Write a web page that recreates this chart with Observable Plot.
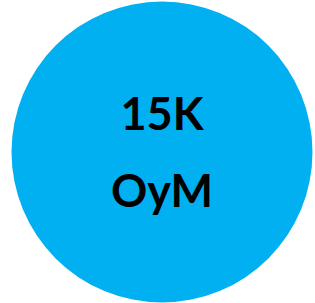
<!DOCTYPE html>
<html>
<head>
<meta charset="utf-8">
<script src="https://cdn.jsdelivr.net/npm/d3@7"></script>
<script src="https://cdn.jsdelivr.net/npm/@observablehq/plot@0.6"></script>
<style>
  html, body { margin: 0; padding: 0; background: #fff; }
</style>
</head>
<body>
<div id="chart"></div>
<script>
const labels = ["15K", "OyM"];
const bubble = [{ value: 15000 }];

const chart = Plot.plot({
  width: 315,
  height: 303,
  marginTop: 0,
  marginBottom: 0,
  marginLeft: 8,
  marginRight: 0,
  x: { axis: null },
  y: { type: "point", domain: labels, range: [115, 192], padding: 0, axis: null },
  style: { background: "transparent" },
  marks: [
    Plot.dot(bubble, { frameAnchor: "middle", r: 150.5, fill: "#00B0F0", stroke: "none" }),
    Plot.text(labels, {
      y: d => d,
      frameAnchor: "middle",
      text: d => d,
      fontFamily: "Lato",
      fontWeight: "bold",
      fontSize: 45,
      fill: "#000"
    })
  ]
});
document.getElementById("chart").appendChild(chart);
</script>
</body>
</html>
